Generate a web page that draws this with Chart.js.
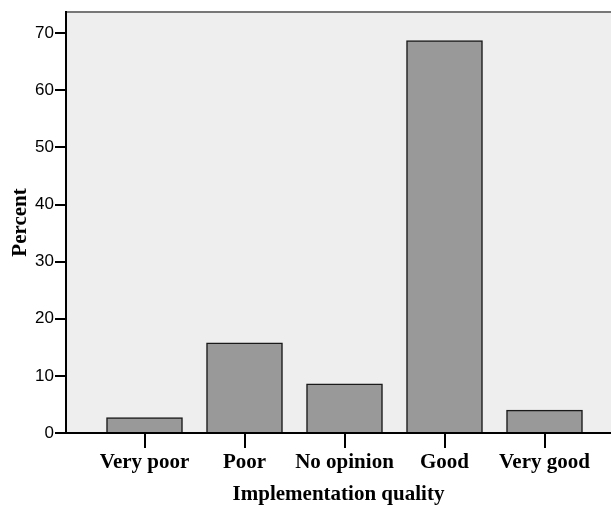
<!DOCTYPE html>
<html>
<head>
<meta charset="utf-8">
<script src="https://cdn.jsdelivr.net/npm/chart.js@4/dist/chart.umd.min.js"></script>
<style>
  html, body { margin: 0; padding: 0; background: #fff; }
  #wrap { width: 611px; height: 507px; position: relative; }
</style>
</head>
<body>
<div id="wrap"><canvas id="chart"></canvas></div>
<script>
// 차트 데이터
const categories = ['Very poor', 'Poor', 'No opinion', 'Good', 'Very good'];
const percentValues = [2.7, 15.8, 8.6, 68.7, 4.0];
const yTicks = [0, 10, 20, 30, 40, 50, 60, 70];

// 플롯 배경과 윗선
const plotBackground = {
    id: 'plotBackground',
    beforeDraw(chart) {
        const { ctx, chartArea } = chart;
        ctx.save();
        ctx.fillStyle = '#eeeeee';
        ctx.fillRect(chartArea.left, chartArea.top, chartArea.right - chartArea.left, chartArea.bottom - chartArea.top);
        ctx.strokeStyle = '#777777';
        ctx.lineWidth = 2;
        ctx.beginPath();
        ctx.moveTo(chartArea.left, chartArea.top);
        ctx.lineTo(chartArea.right, chartArea.top);
        ctx.stroke();
        ctx.restore();
    }
};

const serifBold = { family: '"Liberation Serif", "Times New Roman", serif', weight: 'bold', size: 21 };

new Chart(document.getElementById('chart').getContext('2d'), {
    type: 'bar',
    data: {
        datasets: [{
            data: percentValues.map((v, i) => ({ x: i, y: v })),
            backgroundColor: '#999999',
            borderColor: '#1a1a1a',
            borderWidth: 1.5,
            barThickness: 76
        }]
    },
    options: {
        responsive: true,
        maintainAspectRatio: false,
        animation: false,
        layout: { padding: { top: 12, left: 0, right: 0, bottom: 0 } },
        plugins: {
            legend: { display: false },
            tooltip: { enabled: false }
        },
        scales: {
            x: {
                type: 'linear',
                offset: false,
                min: -0.785,
                max: 4.665,
                afterBuildTicks: axis => { axis.ticks = categories.map((c, i) => ({ value: i })); },
                afterFit: axis => { axis.height = 74; },
                ticks: {
                    callback: v => categories[v],
                    color: '#000',
                    font: serifBold,
                    padding: 2,
                    maxRotation: 0,
                    autoSkip: false
                },
                grid: { offset: false, drawOnChartArea: false, color: '#000', lineWidth: 2, tickLength: 15 },
                border: { color: '#000', width: 2 },
                title: {
                    display: true,
                    text: 'Implementation quality',
                    color: '#000',
                    font: serifBold,
                    padding: { top: 0, bottom: 0 }
                }
            },
            y: {
                min: 0,
                max: 73.7,
                afterBuildTicks: axis => { axis.ticks = yTicks.map(v => ({ value: v })); },
                afterFit: axis => { axis.width = 66; },
                ticks: {
                    color: '#000',
                    font: { family: '"Liberation Sans", Arial, sans-serif', size: 17 },
                    padding: 1
                },
                grid: { drawOnChartArea: false, color: '#000', lineWidth: 2, tickLength: 11 },
                border: { color: '#000', width: 2 },
                title: {
                    display: true,
                    text: 'Percent',
                    color: '#000',
                    font: serifBold,
                    padding: { top: 8, bottom: 0 }
                }
            }
        }
    },
    plugins: [plotBackground]
});
</script>
</body>
</html>
